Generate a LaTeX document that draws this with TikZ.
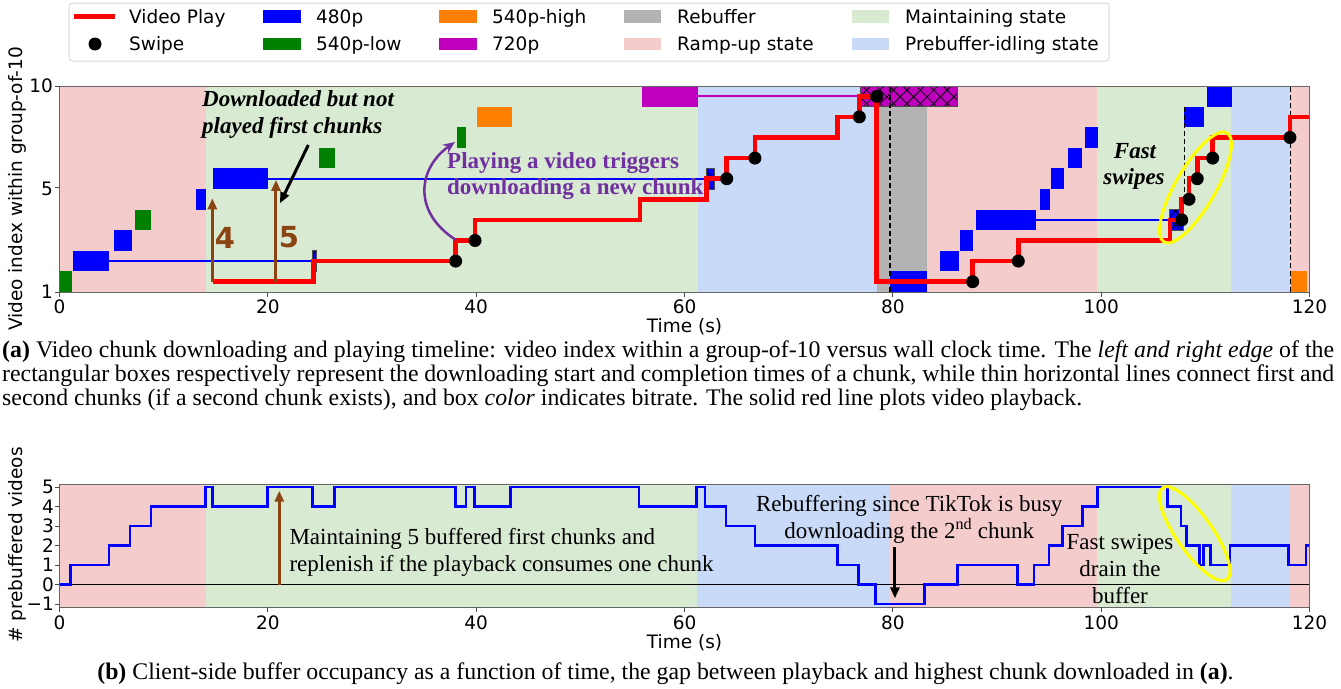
\documentclass[tikz,border=0pt]{standalone}
\usepackage{fontspec}
\setmainfont{Liberation Serif}
\newfontfamily\dejavu{DejaVu Sans}
\usetikzlibrary{patterns.meta,arrows.meta}
\definecolor{rampc}{HTML}{F4CCCC}
\definecolor{maintc}{HTML}{D9EAD3}
\definecolor{idlec}{HTML}{C9DAF8}
\definecolor{rebufc}{HTML}{B3B3B3}
\definecolor{bluec}{HTML}{0000FF}
\definecolor{greenc}{HTML}{008000}
\definecolor{orangec}{HTML}{FF8000}
\definecolor{magc}{HTML}{BF00BF}
\definecolor{brownc}{HTML}{8B4513}
\definecolor{purpc}{HTML}{7030A0}
\definecolor{yelc}{HTML}{FFFF00}
\newcommand{\dv}{\dejavu\fontsize{18.5}{22}\selectfont}
\newcommand{\capfont}{\fontsize{23.8}{24}\selectfont}
\newcommand{\annfont}{\fontsize{23}{27}\selectfont}
\newcommand{\myhatch}[5]{%
  \fill[#1] (#2,#3) rectangle (#4,#5);
  \path[pattern={Lines[angle=45,distance=9.5pt,line width=0.8pt]},pattern color=black] (#2,#3) rectangle (#4,#5);
  \path[pattern={Lines[angle=-45,distance=9.5pt,line width=0.8pt]},pattern color=black] (#2,#3) rectangle (#4,#5);
  \draw[black!70,line width=0.8pt] (#2,#3) rectangle (#4,#5);}
\tikzset{
  thinln/.style={line width=2pt},
  playln/.style={red,line width=4.5pt,line join=miter},
  bufln/.style={bluec,line width=2.5pt,line join=miter},
  vdash/.style={black,line width=1.3pt,dash pattern=on 5pt off 3pt},
  framest/.style={black!60,line width=1pt},
  tickst/.style={black!70,line width=1pt},
  brarrow/.style={brownc,line width=3pt,-{Triangle[length=11pt,width=9pt]}},
  blkarrow/.style={black,line width=3pt,-{Triangle[length=11pt,width=9pt]}},
  ticklab/.style={font=\dv,inner sep=0},
  ann/.style={font=\annfont,inner sep=0},
}
\begin{document}
\begin{tikzpicture}[x=1pt,y=-1pt]
\useasboundingbox[fill=white] (0,0) rectangle (1341,688);

% ================= TOP PLOT =================
\begin{scope}[shift={(59.5,292)},x=10.417pt,y=20.6pt]
\fill[rampc] (0,0) rectangle (14.05,10);
\fill[maintc] (14.05,0) rectangle (61.3,10);
\fill[idlec] (61.3,0) rectangle (79.7,10);
\fill[rampc] (79.7,0) rectangle (99.6,10);
\fill[maintc] (99.6,0) rectangle (112.5,10);
\fill[idlec] (112.5,0) rectangle (118.1,10);
\fill[rampc] (118.1,0) rectangle (120,10);
\fill[rebufc] (78.45,0) rectangle (83.25,10);
% thin connecting lines
\draw[bluec,thinln] (4.75,1.5) -- (24.31,1.5);
\draw[bluec,thinln] (20.04,5.5) -- (62.13,5.5);
\draw[magc,thinln] (61.32,9.5) -- (76.91,9.5);
\draw[bluec,thinln] (93.71,3.5) -- (106.54,3.5);
% chunks
\fill[greenc] (0,0) rectangle (1.17,1);
\fill[bluec] (1.32,1) rectangle (4.75,2);
\fill[bluec] (5.26,2) rectangle (6.93,3);
\fill[greenc] (7.28,3) rectangle (8.75,4);
\fill[bluec] (13.1,4) rectangle (14.06,5);
\fill[bluec] (14.74,5) rectangle (20.04,6);
\fill[greenc] (24.88,6) rectangle (26.45,7);
\fill[greenc] (38.13,7) rectangle (39.06,8);
\fill[orangec] (40.05,8) rectangle (43.41,9);
\fill[magc] (55.89,9) rectangle (61.32,10);
\fill[bluec] (79.72,0) rectangle (83.24,1);
\fill[bluec] (84.52,1) rectangle (86.35,2);
\fill[bluec] (86.44,2) rectangle (87.72,3);
\fill[bluec] (87.95,3) rectangle (93.71,4);
\fill[bluec] (94.13,4) rectangle (95.09,5);
\fill[bluec] (95.2,5) rectangle (96.46,6);
\fill[bluec] (96.84,6) rectangle (98.19,7);
\fill[bluec] (98.42,7) rectangle (99.72,8);
\fill[bluec] (107.98,8) rectangle (109.9,9);
\fill[bluec] (110.13,9) rectangle (112.53,10);
\fill[orangec] (118.19,0) rectangle (119.73,1);
\myhatch{bluec}{24.31}{1}{24.69}{2}
\myhatch{bluec}{62.13}{5}{62.86}{6}
\myhatch{magc}{76.91}{9}{86.22}{10}
\myhatch{bluec}{106.54}{3}{107.88}{4}
% dashed lines
\draw[vdash] (79.72,0) -- (79.72,10);
\draw[vdash] (107.98,9) -- (107.98,4.5);
\draw[vdash] (118.19,0) -- (118.19,10);
% play line
\draw[playln] (14.74,0.5) -| (24.36,1.5) -| (38.03,2.5) -| (39.89,3.5) -| (55.72,4.5)
  -| (62.13,5.5) -| (64.05,6.5) -| (66.76,7.5) -| (74.7,8.5) -| (76.78,9.5)
  -| (78.45,0.5) -| (87.66,1.5) -| (92.04,2.5) -| (106.6,3.5) -| (107.73,4.5)
  -| (108.43,5.5) -| (109.22,6.5) -| (110.7,7.5) -| (118.12,8.5) -- (120,8.5);
% swipes
\foreach \t/\v in {38.03/1.5,39.89/2.5,64.05/5.5,66.76/6.5,76.78/8.5,78.45/9.5,87.66/0.5,92.04/1.5,107.73/3.5,108.43/4.5,109.22/5.5,110.7/6.5,118.12/7.5}
  \fill[black] (\t,\v) circle[radius=6.5pt];
% brown arrows
\coordinate (a4s) at (14.67,0.5); \coordinate (a4e) at (14.67,4.55);
\coordinate (a5s) at (20.78,0.5); \coordinate (a5e) at (20.78,5.44);
\draw[brarrow] (a4s) -- (a4e);
\draw[brarrow] (a5s) -- (a5e);
% frame and ticks
\draw[framest] (0,0) rectangle (120,10);
\foreach \t in {0,20,...,120} \draw[tickst] (\t,0) -- ++(0pt,-5pt);
\foreach \v in {0,5.05,10} \draw[tickst] (0,\v) -- ++(-5pt,0pt);
\end{scope}

% top annotations
\coordinate (dlS) at (308.3,145); \coordinate (dlE) at (280,203.3);
\draw[blkarrow] (dlS) -- (dlE);
\coordinate (puS) at (456,240); \coordinate (puE) at (455,142);
\draw[purpc,line width=2.5pt,-{Stealth[length=12pt,width=10pt]}] (puS) .. controls (412,212) and (418,168) .. (puE);
\node[ann,font=\annfont\bfseries\itshape,anchor=base west] (dl1) at (202,106) {Downloaded but not};
\node[ann,font=\annfont\bfseries\itshape,anchor=base west] (dl2) at (202,133) {played first chunks};
\node[ann,font=\annfont\bfseries,text=purpc,anchor=base west] (pl1) at (447,168) {Playing a video triggers};
\node[ann,font=\annfont\bfseries,text=purpc,anchor=base west] (pl2) at (447,194.5) {downloading a new chunk};
\node[ann,font=\annfont\bfseries\itshape,anchor=base] (fs1) at (1135,158) {Fast};
\node[ann,font=\annfont\bfseries\itshape,anchor=base] (fs2) at (1134,184) {swipes};
\node[font=\dejavu\bfseries\fontsize{29}{30}\selectfont,text=brownc,inner sep=0] (four) at (225,237.5) {4};
\node[font=\dejavu\bfseries\fontsize{29}{30}\selectfont,text=brownc,inner sep=0] (five) at (289,237.5) {5};
\draw[yelc,line width=3pt,rotate around={60:(1195.5,187.5)}] (1195.5,187.5) ellipse[x radius=63pt,y radius=20pt];

% top tick labels
\foreach \t in {0,20,...,120}
  \node[ticklab,anchor=base] at ({59.5+10.417*\t},313.5) {\t};
\node[ticklab,anchor=base east] (y10) at (53,92.5) {10};
\node[ticklab,anchor=base east] (y5) at (53,195) {5};
\node[ticklab,anchor=base east] (y1) at (53,298.5) {1};
\node[ticklab,anchor=base] (xlab1) at (684.5,332) {Time (s)};
\node[ticklab,rotate=90] (ylab1) at (17,189) {Video index within group-of-10};

% ================= LEGEND =================
\draw[black!15,line width=1pt,rounded corners=3pt,fill=white] (69,3) rectangle (1109,61);
\draw[red,line width=4.5pt] (74,16.5) -- (115,16.5);
\fill[black] (95,44) circle[radius=6.5pt];
\fill[bluec] (263,10) rectangle (301,22.7);
\fill[greenc] (263,37.7) rectangle (301,50);
\fill[orangec] (439,10) rectangle (477,22.7);
\fill[magc] (439,37.7) rectangle (477,50);
\fill[rebufc] (624,10) rectangle (661,22.7);
\fill[rampc] (624,37.7) rectangle (661,50);
\fill[maintc] (852,10) rectangle (889,22.7);
\fill[idlec] (852,37.7) rectangle (889,50);
\node[ticklab,anchor=base west] (l1) at (129,23.4) {Video Play};
\node[ticklab,anchor=base west] (l2) at (129,50.7) {Swipe};
\node[ticklab,anchor=base west] (l3) at (316,23.4) {480p};
\node[ticklab,anchor=base west] (l4) at (316,50.7) {540p-low};
\node[ticklab,anchor=base west] (l5) at (492,23.4) {540p-high};
\node[ticklab,anchor=base west] (l6) at (492,50.7) {720p};
\node[ticklab,anchor=base west] (l7) at (677,23.4) {Rebuffer};
\node[ticklab,anchor=base west] (l8) at (677,50.7) {Ramp-up state};
\node[ticklab,anchor=base west] (l9) at (905,23.4) {Maintaining state};
\node[ticklab,anchor=base west] (l10) at (905,50.7) {Prebuffer-idling state};

% ================= CAPTION A =================
\node[inner sep=0,anchor=base west,font=\capfont] (capa1) at (2,357) {\makebox[1332pt][s]{\textbf{(a)} Video chunk downloading and playing timeline: video index within a group-of-10 versus wall clock time. The \textit{left and right edge} of the}};
\node[inner sep=0,anchor=base west,font=\capfont] (capa2) at (2,381) {\makebox[1332pt][s]{rectangular boxes respectively represent the downloading start and completion times of a chunk, while thin horizontal lines connect first and}};
\node[inner sep=0,anchor=base west,font=\capfont] (capa3) at (2,405) {second chunks (if a second chunk exists), and box \textit{color} indicates bitrate. The solid red line plots video playback.};

% ================= BOTTOM PLOT =================
\begin{scope}[shift={(59.5,584.7)},x=10.417pt,y=19.5pt]
\fill[rampc] (0,-1.16) rectangle (14.03,5.16);
\fill[maintc] (14.03,-1.16) rectangle (61.2,5.16);
\fill[idlec] (61.2,-1.16) rectangle (79.7,5.16);
\fill[rampc] (79.7,-1.16) rectangle (99.6,5.16);
\fill[maintc] (99.6,-1.16) rectangle (112.5,5.16);
\fill[idlec] (112.5,-1.16) rectangle (118.1,5.16);
\fill[rampc] (118.1,-1.16) rectangle (120,5.16);
\draw[black,line width=1.5pt] (0,0) -- (120,0);
\draw[bufln] (0,0) -| (1.04,1) -| (4.75,2) -| (6.77,3) -| (8.78,4) -| (14.03,5) -| (14.67,4)
  -| (19.99,5) -| (24.27,4) -| (26.38,5) -| (38.03,4) -| (39.02,5) -| (39.82,4) -| (43.31,5)
  -| (55.63,4) -| (61.17,5) -| (61.97,4) -| (63.98,3) -| (66.76,2) -| (74.67,1) -| (76.68,0)
  -| (78.35,-1) -| (83.02,0) -| (86.19,1) -| (91.98,0) -| (93.55,1) -| (94.99,2) -| (96.30,3)
  -| (98.19,4) -| (99.63,5) -| (106.35,4) -| (107.66,3) -| (108.21,2) -| (109.42,1) -| (109.80,2)
  -| (110.51,1) -| (112.36,2) -| (117.96,1) -| (119.66,2) -- (120,2);
\coordinate (mbS) at (21.1,0); \coordinate (mbE) at (21.1,4.82);
\draw[brarrow] (mbS) -- (mbE);
\coordinate (rbS) at (80.2,1.95); \coordinate (rbE) at (80.2,-0.7);
\draw[blkarrow] (rbS) -- (rbE);
\draw[framest] (0,-1.16) rectangle (120,5.16);
\foreach \t in {0,20,...,120} \draw[tickst] (\t,-1.16) -- ++(0pt,-5pt);
\foreach \v in {-1,0,...,5} \draw[tickst] (0,\v) -- ++(-5pt,0pt);
\end{scope}

\draw[yelc,line width=3pt,rotate around={-55:(1194.7,533.7)}] (1194.7,533.7) ellipse[x radius=56pt,y radius=18pt];

% bottom annotations
\node[ann,anchor=base west] (mt1) at (289.3,544.3) {Maintaining 5 buffered first chunks and};
\node[ann,anchor=base west] (mt2) at (289.3,571) {replenish if the playback consumes one chunk};
\node[ann,anchor=base] (rb1) at (909.3,511.7) {Rebuffering since TikTok is busy};
\node[ann,anchor=base] (rb2) at (909.3,538.3) {downloading the 2\textsuperscript{nd} chunk};
\node[ann,anchor=base] (fb1) at (1120,549) {Fast swipes};
\node[ann,anchor=base] (fb2) at (1120,576) {drain the};
\node[ann,anchor=base] (fb3) at (1120,603.3) {buffer};

% bottom tick labels
\foreach \t in {0,20,...,120}
  \node[ticklab,anchor=base] at ({59.5+10.417*\t},629.5) {\t};
\foreach \v/\lab in {5/5,4/4,3/3,2/2,1/1,0/0,-1/{−1}}
  \node[ticklab,anchor=base east] at (54,{584.7-19.5*\v+6.7}) {\lab};
\node[ticklab,anchor=base] (xlab2) at (684.5,648) {Time (s)};
\node[ticklab,rotate=90] (ylab2) at (17,545) {\# prebuffered videos};

% caption b
\node[inner sep=0,anchor=base,font=\capfont] (capb) at (665.5,679) {\textbf{(b)} Client-side buffer occupancy as a function of time, the gap between playback and highest chunk downloaded in \textbf{(a)}.};
\end{tikzpicture}
\end{document}
